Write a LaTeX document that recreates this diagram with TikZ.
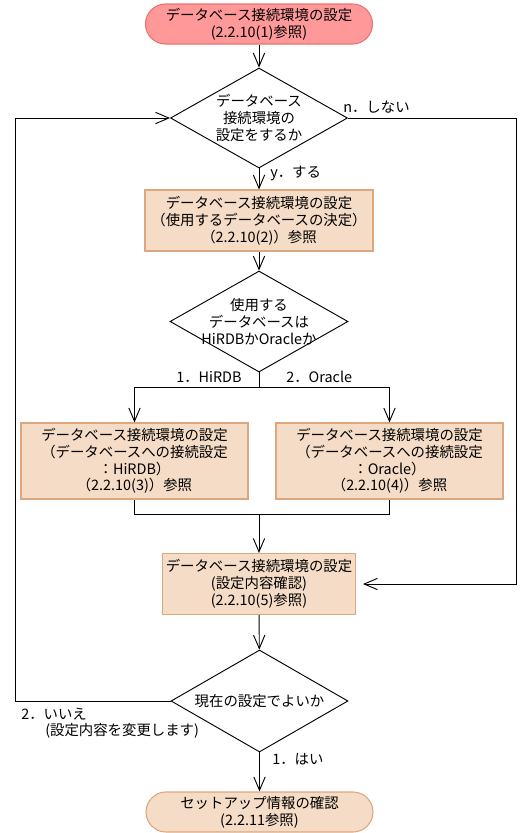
\documentclass[tikz,border=0pt]{standalone}
\usepackage{fontspec}
\setmainfont{Noto Sans CJK JP}
\usetikzlibrary{arrows.meta,shapes.geometric}
\definecolor{pinkfill}{HTML}{FF9999}
\definecolor{pinkline}{HTML}{E87272}
\definecolor{beigefill}{HTML}{F5DCC6}
\definecolor{beigeline}{HTML}{DDA77E}
\tikzset{
  every node/.style={font=\fontsize{10.8pt}{12.6pt}\selectfont},
  line/.style={draw=black,line width=0.7pt},
  arr/.style={line,-{Straight Barb[length=10pt,width=8.5pt,line width=0.7pt]}},
  terminal/.style={rectangle,rounded corners=15pt,line width=0.8pt,minimum height=30pt,inner sep=0pt,align=center},
  startterm/.style={terminal,fill=pinkfill,draw=pinkline},
  endterm/.style={terminal,fill=beigefill,draw=beigeline},
  procbox/.style={rectangle,fill=beigefill,draw=beigeline,line width=0.8pt,inner sep=0pt,align=center},
  dia/.style={diamond,draw=black,line width=0.7pt,inner sep=0pt},
  txt/.style={inner sep=0pt,align=center},
  lbl/.style={inner sep=0pt,anchor=west}
}
\begin{document}
\begin{tikzpicture}[x=0.75pt,y=-0.75pt]
\useasboundingbox (0,0) rectangle (531,833);
% start
\node[startterm,minimum width=170.25pt] (start) at (259,24) {データベース接続環境の設定\\(2.2.10(1)参照)};
% decision 1
\node[dia,minimum width=132.75pt,minimum height=75pt] (d1) at (259,118) {};
\node[txt] (d1t) at (d1) {データベース\\接続環境の\\設定をするか};
% box 2
\node[procbox,minimum width=171pt,minimum height=45.75pt] (b2) at (259,220.5) {データベース接続環境の設定\\（使用するデータベースの決定）\\（2.2.10(2)）参照};
% decision 2
\node[dia,minimum width=133.5pt,minimum height=75.75pt] (d2) at (259,321.5) {};
\node[txt] (d2t) at (d2) {使用する\\データベースは\\HiRDBかOracleか};
% two boxes
\node[procbox,minimum width=170.25pt,minimum height=57pt] (bL) at (134.5,461) {データベース接続環境の設定\\（データベースへの接続設定\\：HiRDB）\\（2.2.10(3)）参照};
\node[procbox,minimum width=170.25pt,minimum height=57pt] (bR) at (389.5,461) {データベース接続環境の設定\\（データベースへの接続設定\\：Oracle）\\（2.2.10(4)）参照};
% box 3
\node[procbox,minimum width=144.75pt,minimum height=45.75pt] (b3) at (259,584) {データベース接続環境の設定\\(設定内容確認)\\(2.2.10(5)参照)};
% decision 3
\node[dia,minimum width=132.75pt,minimum height=76.5pt] (d3) at (259.5,701) {};
\node[txt] (d3t) at (d3) {現在の設定でよいか};
% end
\node[endterm,minimum width=170.25pt] (end) at (259.5,812) {セットアップ情報の確認\\(2.2.11参照)};

% coordinates
\coordinate (j1) at (259,387);
\coordinate (j2) at (259,514);
\coordinate (r1) at (516,118);
\coordinate (r3) at (363,584);
\coordinate (l1) at (15,701);
\coordinate (l2) at (15,118);

% connectors
\draw[arr] (start) -- (d1);
\draw[arr] (d1) -- (b2);
\draw[arr] (b2) -- (d2);
\draw[line] (d2.south) -- (j1);
\draw[arr] (j1) -| (bL.north);
\draw[arr] (j1) -| (bR.north);
\draw[line] (bL.south) |- (j2);
\draw[line] (bR.south) |- (j2);
\draw[arr] (j2) -- (b3.north);
\draw[arr] (d1.east) -- (r1) |- (r3);
\draw[arr] (b3) -- (d3);
\draw[arr] (d3.west) -- (l1) -- (l2) -- (d1.west);
\draw[arr] (d3.south) -- (end.north);

% labels
\node[lbl] (ln) at (343,107) {n．しない};
\node[lbl] (ly) at (270,173) {y．する};
\node[lbl] (l1lab) at (176,377) {1．HiRDB};
\node[lbl] (l2lab) at (286,377) {2．Oracle};
\node[lbl] (lno) at (21,714) {2．いいえ};
\node[lbl] (lno2) at (45,731) {(設定内容を変更します)};
\node[lbl] (lyes) at (272,759) {1．はい};
\end{tikzpicture}
\end{document}
